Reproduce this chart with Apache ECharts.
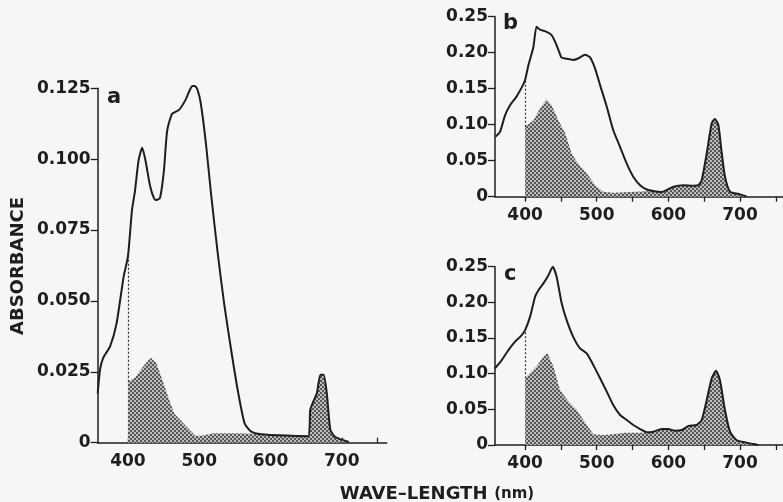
<!DOCTYPE html>
<html>
<head>
<meta charset="utf-8">
<script src="https://cdn.jsdelivr.net/npm/echarts@6/dist/echarts.min.js"></script>
<style>
html,body{margin:0;padding:0;background:#f6f6f4;}
#chart{width:783px;height:502px;}
</style>
</head>
<body>
<div id="chart"></div>
<script>
// ---- Panel a ----
const aLineNm  = [357.6,361,365.5,375,384,394,400,405.7,410,415,420,424.5,431.6,438.7,444.8,450.5,455,462,471.7,481,487,490.6,494,497.6,502,509.4,516.5,526,535,544.8,554,563.7,573,587,620,653,655.7,660,665,670,674.5,679,684,691,710];
const aLineAbs = [0.0174,0.026,0.030,0.034,0.042,0.0586,0.0656,0.082,0.089,0.0997,0.104,0.0997,0.090,0.0856,0.0862,0.096,0.110,0.116,0.1174,0.121,0.1245,0.1258,0.1258,0.1245,0.120,0.1056,0.088,0.0668,0.049,0.0327,0.0186,0.0068,0.0039,0.003,0.0025,0.0023,0.0115,0.0145,0.0174,0.024,0.024,0.0174,0.0045,0.002,0.0003];
const aShadeNm  = [400,410,425,432,440,450,458,465,480,495,505,520,550,600,650,653,655.7,660,665,670,674.5,679,684,691,710];
const aShadeAbs = [0.0215,0.023,0.028,0.030,0.028,0.021,0.015,0.0103,0.0062,0.0024,0.0025,0.0033,0.0033,0.003,0.0025,0.0023,0.0115,0.0145,0.0174,0.024,0.024,0.0174,0.0045,0.002,0.0003];

// ---- Panel b ----
const bLineNm  = [358.5,365,372,379,388,397,400,404.7,411.6,416,421,430,437,442,446.5,451,456,467,474,484,490.7,497.7,504.7,514,523,532.6,541.9,551,560.5,569.8,579,590.7,597.7,607,621,635,642,646.5,653.5,660.5,665,669.8,674,679,686,700,709];
const bLineAbs = [0.0833,0.090,0.113,0.127,0.139,0.155,0.162,0.183,0.208,0.236,0.232,0.229,0.2245,0.215,0.204,0.193,0.192,0.190,0.192,0.197,0.1935,0.178,0.155,0.125,0.0926,0.069,0.046,0.0278,0.016,0.010,0.0079,0.0065,0.0093,0.0139,0.016,0.0153,0.016,0.023,0.060,0.102,0.108,0.0995,0.065,0.028,0.007,0.0032,0.0005];
const bShadeNm  = [400,411.6,421,430,437,446.5,456,465,472,486,497.7,509,523,546.5,569.8,579,590.7,597.7,607,621,635,642,646.5,653.5,660.5,665,669.8,674,679,686,700,709];
const bShadeAbs = [0.097,0.106,0.1227,0.135,0.127,0.106,0.088,0.060,0.0486,0.0324,0.016,0.007,0.0056,0.0065,0.0075,0.0079,0.0065,0.0093,0.0139,0.016,0.0153,0.016,0.023,0.060,0.102,0.108,0.0995,0.065,0.028,0.007,0.0032,0.0005];

// ---- Panel c ----
const cLineNm  = [358,367.4,376.7,386,395.3,400,407,414,418.6,425.6,432.6,438.6,444,451,458,467,476.7,486,495.3,504.7,514,523,532.6,541.9,551,560.5,569.8,579,590.7,600,609,618.6,628,639.5,646.5,653.5,660.5,666.5,672,679,686,695,709,725.6];
const cLineAbs = [0.1075,0.119,0.133,0.145,0.154,0.161,0.180,0.208,0.217,0.2266,0.238,0.250,0.236,0.199,0.175,0.152,0.1355,0.1285,0.112,0.0935,0.0748,0.056,0.042,0.035,0.028,0.0224,0.0178,0.0187,0.0224,0.0224,0.020,0.021,0.0266,0.028,0.035,0.063,0.0935,0.104,0.091,0.049,0.0187,0.007,0.0033,0.0];
const cShadeNm  = [400,416,425.6,431,439.5,448.8,460.5,472,486,495.3,509,523,539.5,560.5,569.8,579,590.7,600,609,618.6,628,639.5,646.5,653.5,660.5,666.5,672,679,686,695,709,725.6];
const cShadeAbs = [0.0935,0.11,0.124,0.129,0.11,0.077,0.061,0.049,0.028,0.015,0.014,0.015,0.0173,0.0173,0.0178,0.0187,0.0224,0.0224,0.020,0.021,0.0266,0.028,0.035,0.063,0.0935,0.104,0.091,0.049,0.0187,0.007,0.0033,0.0];

// ---- ticks ----
const xLabelTicks = [400,500,600,700];
const xMinorTicks = [400,450,500,550,600,650,700,750];

function zip(xs, ys){ return xs.map((x,i)=>[x, ys[i]]); }
function valueAt(xs, ys, x){ const i = xs.indexOf(x); return ys[i]; }

// checker pattern for shaded area
const pc = document.createElement('canvas');
pc.width = 4; pc.height = 4;
const pctx = pc.getContext('2d');
pctx.fillStyle = '#bdbdbb'; pctx.fillRect(0,0,4,4);
pctx.fillStyle = '#575757';
pctx.fillRect(0,0,2,2); pctx.fillRect(2,2,2,2);
const shadePattern = { image: pc, repeat: 'repeat' };

const ink = '#1e1e1e';
const font = 'DejaVu Sans';

const panels = [
  {grid:{left:97.7, top:88.3, width:289, height:354.4}, xmin:357.6, xmax:763, ymax:0.125, yint:0.025, dec:3,
   line:zip(aLineNm,aLineAbs), shade:zip(aShadeNm,aShadeAbs), dotTop: valueAt(aLineNm,aLineAbs,400), dotBot:aShadeAbs[0], tickInside:true},
  {grid:{left:495, top:16.7, width:288, height:180}, xmin:358, xmax:760, ymax:0.25, yint:0.05, dec:2,
   line:zip(bLineNm,bLineAbs), shade:zip(bShadeNm,bShadeAbs), dotTop: valueAt(bLineNm,bLineAbs,400), dotBot:bShadeAbs[0], tickInside:false},
  {grid:{left:495, top:266.7, width:288, height:178.3}, xmin:358, xmax:760, ymax:0.25, yint:0.05, dec:2,
   line:zip(cLineNm,cLineAbs), shade:zip(cShadeNm,cShadeAbs), dotTop: valueAt(cLineNm,cLineAbs,400), dotBot:cShadeAbs[0], tickInside:false}
];

const grids=[], xAxes=[], yAxes=[], series=[];
panels.forEach((p,i)=>{
  grids.push(Object.assign({containLabel:false}, p.grid));
  xAxes.push({
    type:'value', gridIndex:i, min:p.xmin, max:p.xmax,
    axisLine:{show:true, onZero:false, lineStyle:{color:ink, width:1.5}},
    axisTick:{show:true, inside:p.tickInside, length:5, customValues:xMinorTicks, lineStyle:{color:ink, width:1.3}},
    axisLabel:{show:true, customValues:xLabelTicks, color:ink, fontFamily:font, fontWeight:'bold', fontSize:17, margin:10},
    splitLine:{show:false}
  });
  yAxes.push({
    type:'value', gridIndex:i, min:0, max:p.ymax, interval:p.yint,
    axisLine:{show:true, lineStyle:{color:ink, width:1.5}},
    axisTick:{show:true, inside:false, length:7, lineStyle:{color:ink, width:1.3}},
    axisLabel:{show:true, color:ink, fontFamily:font, fontWeight:'bold', fontSize:17, margin:7,
      formatter:(v)=> v===0 ? '0' : v.toFixed(p.dec)},
    splitLine:{show:false}
  });
  series.push({
    type:'line', xAxisIndex:i, yAxisIndex:i, data:p.shade, smooth:false, symbol:'none',
    lineStyle:{width:0}, areaStyle:{color:shadePattern, opacity:1}, z:2, clip:false,
    markLine:{silent:true, symbol:'none', label:{show:false},
      lineStyle:{type:[2,2], color:'#333', width:1.2},
      data:[[{coord:[400, p.dotBot]},{coord:[400, p.dotTop]}]]}
  });
  series.push({
    type:'line', xAxisIndex:i, yAxisIndex:i, data:p.line, smooth:0.2, symbol:'none',
    lineStyle:{color:ink, width:2}, z:3, clip:false
  });
});

const chart = echarts.init(document.getElementById('chart'), null, {renderer:'canvas'});
chart.setOption({
  backgroundColor:'#f6f6f4',
  animation:false,
  grid:grids, xAxis:xAxes, yAxis:yAxes, series:series,
  graphic:[
    {type:'text', left:107, top:87, style:{text:'a', fill:ink, font:'bold 21px "DejaVu Sans"'}},
    {type:'text', left:503, top:13, style:{text:'b', fill:ink, font:'bold 21px "DejaVu Sans"'}},
    {type:'text', left:504, top:264, style:{text:'c', fill:ink, font:'bold 21px "DejaVu Sans"'}},
    {type:'text', x:18, y:266, rotation:Math.PI/2,
     style:{text:'ABSORBANCE', fill:ink, font:'bold 18px "DejaVu Sans"', align:'center', verticalAlign:'middle'}},
    {type:'text', x:437, y:494,
     style:{text:'{b|WAVE–LENGTH}  {n|(nm)}', align:'center', verticalAlign:'middle',
       rich:{b:{fill:ink, font:'bold 18px "DejaVu Sans"'}, n:{fill:ink, font:'bold 15px "DejaVu Sans"'}}}}
  ]
});
</script>
</body>
</html>
